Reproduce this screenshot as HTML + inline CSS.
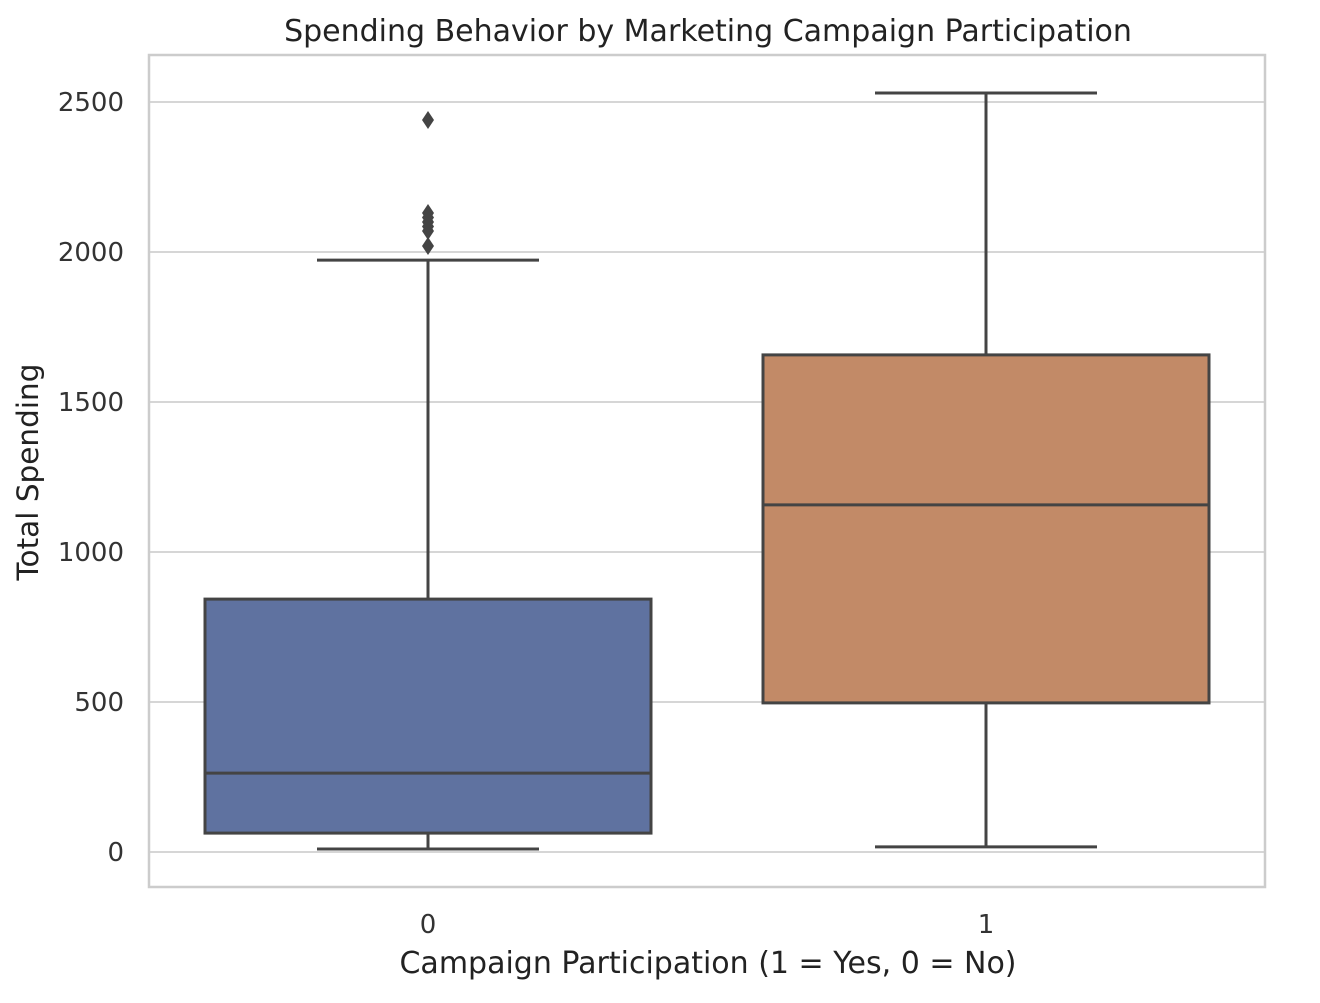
<!DOCTYPE html>
<html><head><meta charset="utf-8"><style>
body{margin:0;background:#fff;font-family:"Liberation Sans","DejaVu Sans",sans-serif;}
</style></head><body>
<svg id="chart" width="1320" height="998" xmlns="http://www.w3.org/2000/svg" font-family="DejaVu Sans, Liberation Sans, sans-serif">
<rect width="1320" height="998" fill="#fff"/>
<g id="grid"></g>
<rect x="149" y="55" width="1116" height="832" fill="none" stroke="#cccccc" stroke-width="2.5"/>
<g id="boxes"></g>
<g id="ticks" fill="#333" font-size="26"></g>
<text x="708" y="41" text-anchor="middle" font-size="30" fill="#222">Spending Behavior by Marketing Campaign Participation</text>
<text x="708" y="973" text-anchor="middle" font-size="30" fill="#222">Campaign Participation (1 = Yes, 0 = No)</text>
<text transform="translate(38,472) rotate(-90)" text-anchor="middle" font-size="29.5" fill="#222">Total Spending</text>
</svg>
<script>
const categories=["0","1"];
const q1s=[63,497];
const medians=[263,1157];
const q3s=[843,1657];
const whiskerLows=[10,17];
const whiskerHighs=[1973,2530];
const outliers0=[2440,2130,2115,2100,2085,2070,2020];
const outliers1=[];
const yTicks=[0,500,1000,1500,2000,2500];
const colors=["#5f72a0","#c28a67"];
const NS="http://www.w3.org/2000/svg";
function y(v){return 852-v*0.3;}
function xc(i){return 428+i*558;}
const halfW=223, capW=111;
function mk(tag,attrs,parent){const e=document.createElementNS(NS,tag);for(const k in attrs)e.setAttribute(k,attrs[k]);parent.appendChild(e);return e;}
const grid=document.getElementById('grid'),ticks=document.getElementById('ticks'),boxes=document.getElementById('boxes');
yTicks.forEach(t=>{
  const l=mk('line',{x1:149,x2:1265,y1:y(t),y2:y(t),stroke:'#d6d6d6','stroke-width':2},grid);
  
  
  const tx=mk('text',{x:124,y:y(t)+9,'text-anchor':'end'},ticks);
  tx.textContent=t;
  
  
});
const outs=[outliers0,outliers1];
categories.forEach((c,i)=>{
  const x=xc(i),s='#444',w=3;
  const g=mk('g',{},boxes);
  
  
  mk('line',{x1:x,x2:x,y1:y(whiskerLows[i]),y2:y(q1s[i]),stroke:s,'stroke-width':w},g);
  mk('line',{x1:x,x2:x,y1:y(q3s[i]),y2:y(whiskerHighs[i]),stroke:s,'stroke-width':w},g);
  mk('line',{x1:x-capW,x2:x+capW,y1:y(whiskerLows[i]),y2:y(whiskerLows[i]),stroke:s,'stroke-width':w},g);
  mk('line',{x1:x-capW,x2:x+capW,y1:y(whiskerHighs[i]),y2:y(whiskerHighs[i]),stroke:s,'stroke-width':w},g);
  const r=mk('rect',{x:x-halfW,y:y(q3s[i]),width:2*halfW,height:y(q1s[i])-y(q3s[i]),fill:colors[i],stroke:s,'stroke-width':w},g);
  
  
  mk('line',{x1:x-halfW,x2:x+halfW,y1:y(medians[i]),y2:y(medians[i]),stroke:s,'stroke-width':w},g);
  outs[i].forEach(v=>{
    const p=mk('path',{d:`M${x} ${y(v)-9} L${x+6} ${y(v)} L${x} ${y(v)+9} L${x-6} ${y(v)} Z`,fill:'#444'},g);
    
    
  });
  const tx=mk('text',{x:x,y:933,'text-anchor':'middle'},ticks);
  tx.textContent=c;
  
  
});
</script>
</body></html>
